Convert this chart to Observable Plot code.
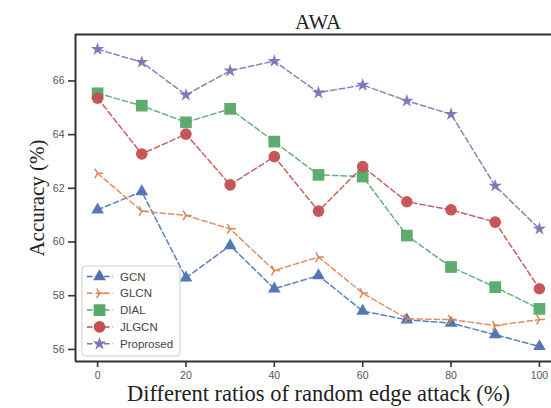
<!DOCTYPE html>
<html>
<head>
<meta charset="utf-8">
<script src="https://cdn.jsdelivr.net/npm/d3@7"></script>
<script src="https://cdn.jsdelivr.net/npm/@observablehq/plot@0.6"></script>
<style>
  html, body { margin: 0; padding: 0; background: #fff; overflow: hidden; }
  #chart { width: 551px; height: 408px; overflow: hidden; }
  #chart svg { display: block; max-width: none !important; }
</style>
</head>
<body>
<div id="chart"></div>
<script>
const ratios = [0, 10, 20, 30, 40, 50, 60, 70, 80, 90, 100];
const gcn      = [61.20, 61.88, 58.67, 59.87, 58.26, 58.75, 57.43, 57.10, 56.98, 56.55, 56.11];
const glcn     = [62.56, 61.15, 60.99, 60.49, 58.94, 59.44, 58.10, 57.14, 57.11, 56.89, 57.11];
const dial     = [65.54, 65.08, 64.46, 64.96, 63.74, 62.50, 62.44, 60.24, 59.07, 58.32, 57.51];
const jlgcn    = [65.36, 63.28, 64.02, 62.13, 63.18, 61.15, 62.81, 61.50, 61.20, 60.74, 58.26];
const proposed = [67.18, 66.70, 65.48, 66.38, 66.74, 65.56, 65.85, 65.26, 64.76, 62.09, 60.49];

const seriesNames = ["GCN", "GLCN", "DIAL", "JLGCN", "Proprosed"];
const seriesValues = [gcn, glcn, dial, jlgcn, proposed];
const colors = ["#4C72B0", "#DD8452", "#55A868", "#C44E52", "#8172B3"];
const xTicks = [0, 20, 40, 60, 80, 100];
const yTicks = [56, 58, 60, 62, 64, 66];
const titleText = "AWA";
const xLabel = "Different ratios of random edge attack (%)";
const yLabel = "Accuracy (%)";

const triRight = {
  draw(context, size) {
    const r = Math.sqrt(size / Math.PI) * 1.1;
    for (const a of [0, 2 * Math.PI / 3, 4 * Math.PI / 3]) {
      context.moveTo(0, 0);
      context.lineTo(r * Math.cos(a), r * Math.sin(a));
    }
  }
};
const symbols = [d3.symbolTriangle, triRight, d3.symbolSquare, d3.symbolCircle, d3.symbolStar];
const radii = [4.7, 5, 6.6, 5.8, 4.2];

const rows = [];
seriesNames.forEach((name, i) => {
  ratios.forEach((r, j) => rows.push({series: name, ratio: r, acc: seriesValues[i][j]}));
});

const xDomain = [-5, 105];
const yDomain = [55.55, 67.73];

const marks = [];
seriesNames.forEach((name, i) => {
  const d = rows.filter(r => r.series === name);
  marks.push(Plot.line(d, {x: "ratio", y: "acc", stroke: colors[i], strokeWidth: 1.5, strokeDasharray: "5.5,3", strokeOpacity: 0.9}));
});
seriesNames.forEach((name, i) => {
  const d = rows.filter(r => r.series === name);
  if (i === 1) {
    marks.push(Plot.dot(d, {x: "ratio", y: "acc", symbol: symbols[i], r: radii[i], fill: "none", stroke: colors[i], strokeWidth: 1.5}));
  } else {
    marks.push(Plot.dot(d, {x: "ratio", y: "acc", symbol: symbols[i], r: radii[i], fill: colors[i], stroke: "none", fillOpacity: 0.95}));
  }
});

const chart = Plot.plot({
  width: 561,
  height: 408,
  marginLeft: 75,
  marginRight: 0,
  marginTop: 34,
  marginBottom: 47,
  style: {fontFamily: "'Liberation Sans', Arial, sans-serif", background: "#fff", maxWidth: "none"},
  x: {domain: xDomain},
  y: {domain: yDomain},
  marks: [
    Plot.axisX(xTicks, {tickSize: 6, tickPadding: 4, fontSize: 10.5, color: "#555", stroke: "#333", strokeWidth: 1.6, label: null}),
    Plot.axisY(yTicks, {tickSize: 7, tickPadding: 4, fontSize: 10.5, color: "#555", stroke: "#333", strokeWidth: 1.6, label: null}),
    ...marks,
    Plot.ruleY([yDomain[0]], {stroke: "#333", strokeWidth: 2}),
    Plot.ruleY([yDomain[1]], {stroke: "#333", strokeWidth: 2}),
    Plot.ruleX([xDomain[0]], {stroke: "#333", strokeWidth: 2}),
    Plot.ruleX([xDomain[1]], {stroke: "#333", strokeWidth: 2})
  ]
});

document.getElementById("chart").appendChild(chart);

const svg = d3.select(chart);
const serif = "'Liberation Serif', 'Times New Roman', serif";
svg.append("text").attr("x", 318).attr("y", 29).attr("text-anchor", "middle")
  .attr("font-family", serif).attr("font-size", 21).attr("fill", "#222").text(titleText);
svg.append("text").attr("x", 318.5).attr("y", 401).attr("text-anchor", "middle")
  .attr("font-family", serif).attr("font-size", 22.5).attr("fill", "#222").text(xLabel);
svg.append("text").attr("transform", "translate(44,198) rotate(-90)").attr("text-anchor", "middle")
  .attr("font-family", serif).attr("font-size", 21).attr("fill", "#222").text(yLabel);

// legend
const lg = svg.append("g").attr("transform", "translate(82,266)");
lg.append("rect").attr("x", 0).attr("y", 0).attr("width", 98).attr("height", 90).attr("rx", 3)
  .attr("fill", "#fff").attr("fill-opacity", 0.85).attr("stroke", "#ccc").attr("stroke-width", 1);
seriesNames.forEach((name, i) => {
  const yy = 10.5 + i * 16.8;
  lg.append("line").attr("x1", 5).attr("x2", 31).attr("y1", yy).attr("y2", yy)
    .attr("stroke", colors[i]).attr("stroke-width", 1.5).attr("stroke-dasharray", "5.5,3");
  const area = Math.PI * radii[i] * radii[i];
  const p = d3.symbol(symbols[i], area)();
  const s = lg.append("path").attr("d", p).attr("transform", `translate(17.5,${yy})`);
  if (i === 1) s.attr("fill", "none").attr("stroke", colors[i]).attr("stroke-width", 1.5);
  else s.attr("fill", colors[i]);
  lg.append("text").attr("x", 38).attr("y", yy).attr("dy", "0.35em").attr("text-anchor", "start")
    .attr("font-family", "'Liberation Sans', Arial, sans-serif").attr("font-size", 11.5)
    .attr("fill", "#444").text(name);
});
</script>
</body>
</html>
